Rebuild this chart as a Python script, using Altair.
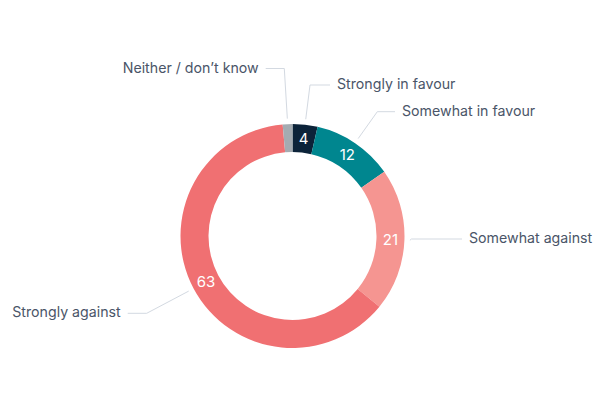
import math
import altair as alt
import pandas as pd

# ---- data ----
categories = ["Strongly in favour", "Somewhat in favour", "Somewhat against",
              "Strongly against", "Neither / don’t know"]
values = [3.6, 11.7, 20.6, 62.8, 1.4]
shown = ["4", "12", "21", "63", ""]
colors = ["#0c2339", "#00868f", "#f59591", "#f07072", "#a4abb1"]

# ---- layout (pixels relative to donut centre, y up) ----
R_OUT, R_IN, R_LBL, R_LINE = 112, 84, 98, 117.5
layout = {
    # elbow dx, elbow dy, line end dx, align
    "Strongly in favour": (17.5, 151.0, 37.5, "left"),
    "Somewhat in favour": (84.8, 124.3, 102.5, "left"),
    "Somewhat against": (119.0, -3.0, 169.5, "left"),
    "Strongly against": (-145.8, -77.3, -164.8, "right"),
    "Neither / don’t know": (-8.2, 167.5, -26.8, "right"),
}
GAP = 7

total = sum(values)
rows, nums, pts, labs = [], [], [], []
cum = 0.0
for i, (c, v, s) in enumerate(zip(categories, values, shown)):
    mid = (cum + v / 2) / total * 2 * math.pi
    cum += v
    rows.append({"cat": c, "value": v, "ord": i})
    nums.append({"cat": c, "txt": s, "x": R_LBL * math.sin(mid), "y": R_LBL * math.cos(mid)})
    ex, ey, endx, al = layout[c]
    p0 = (R_LINE * math.sin(mid), R_LINE * math.cos(mid))
    for k, (px, py) in enumerate([p0, (ex, ey), (endx, ey)]):
        pts.append({"cat": c, "k": k, "x": px, "y": py})
    labs.append({"cat": c, "x": endx + (GAP if al == "left" else -GAP), "y": ey, "align": al})

df = pd.DataFrame(rows)
dnum = pd.DataFrame(nums)
dpts = pd.DataFrame(pts)
dlab = pd.DataFrame(labs)

xs = alt.Scale(domain=[-292.5, 307.5])
ys = alt.Scale(domain=[-164, 236])
FONT = "Inter"

arc = alt.Chart(df).mark_arc(outerRadius=R_OUT, innerRadius=R_IN).encode(
    theta=alt.Theta("value:Q", stack=True),
    order=alt.Order("ord:Q"),
    color=alt.Color("cat:N", scale=alt.Scale(domain=categories, range=colors), legend=None),
    x=alt.datum(0, scale=xs, axis=None),
    y=alt.datum(0, scale=ys, axis=None),
)

numtxt = alt.Chart(dnum).mark_text(color="white", font=FONT, fontSize=15,
                                    baseline="middle", align="center").encode(
    x=alt.X("x:Q", scale=xs, axis=None),
    y=alt.Y("y:Q", scale=ys, axis=None),
    text="txt:N",
)

lines = alt.Chart(dpts).mark_line(color="#d3d9e1", strokeWidth=1).encode(
    x=alt.X("x:Q", scale=xs, axis=None),
    y=alt.Y("y:Q", scale=ys, axis=None),
    detail="cat:N",
    order="k:Q",
)

left = alt.Chart(dlab[dlab["align"] == "left"]).mark_text(
    color="#4a5568", font=FONT, fontSize=14.2, align="left", baseline="middle").encode(
    x=alt.X("x:Q", scale=xs, axis=None),
    y=alt.Y("y:Q", scale=ys, axis=None),
    text="cat:N",
)
right = alt.Chart(dlab[dlab["align"] == "right"]).mark_text(
    color="#4a5568", font=FONT, fontSize=14.2, align="right", baseline="middle").encode(
    x=alt.X("x:Q", scale=xs, axis=None),
    y=alt.Y("y:Q", scale=ys, axis=None),
    text="cat:N",
)

chart = alt.layer(lines, arc, numtxt, left, right).properties(
    width=600, height=400, padding=0, background="white",
    autosize=alt.AutoSizeParams(type="none"),
).configure_view(strokeWidth=0, stroke="transparent")

chart.save("out.html", embed_options={"renderer": "svg", "actions": False})
